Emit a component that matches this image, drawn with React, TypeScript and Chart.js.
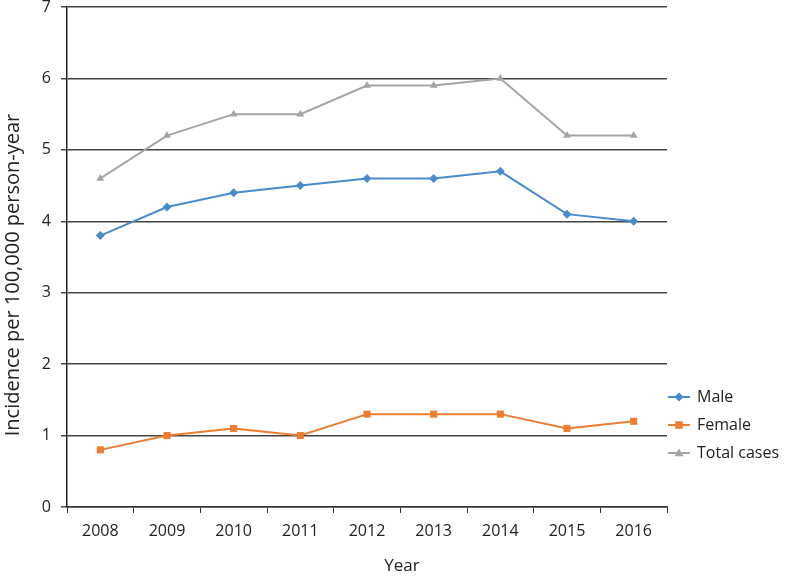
import React, { useEffect, useRef } from "react";
import { Chart, registerables } from "chart.js";

Chart.register(...registerables);

const years = ["2008", "2009", "2010", "2011", "2012", "2013", "2014", "2015", "2016"];
const male = [3.8, 4.2, 4.4, 4.5, 4.6, 4.6, 4.7, 4.1, 4.0];
const female = [0.8, 1.0, 1.1, 1.0, 1.3, 1.3, 1.3, 1.1, 1.2];
const total = [4.6, 5.2, 5.5, 5.5, 5.9, 5.9, 6.0, 5.2, 5.2];
const seriesNames = ["Male", "Female", "Total cases"];
const colors = ["#4a8bcb", "#ed7d31", "#a5a5a5"];
const markers = ["rectRot", "rect", "triangle"];
const yTitle = "Incidence per 100,000 person-year";
const xTitle = "Year";
const FONT = "'Open Sans', 'DejaVu Sans', sans-serif";

const legendPlugin = {
  id: "sideLegend",
  afterDraw(chart: any) {
    const { ctx, chartArea } = chart;
    const x0 = chartArea.right + 1;
    const yStart = chartArea.bottom - 110;
    ctx.save();
    chart.data.datasets.forEach((ds: any, i: number) => {
      const y = yStart + i * 28;
      ctx.strokeStyle = ds.borderColor;
      ctx.lineWidth = 2;
      ctx.beginPath();
      ctx.moveTo(x0, y);
      ctx.lineTo(x0 + 22, y);
      ctx.stroke();
      ctx.fillStyle = ds.backgroundColor;
      const r = ds.pointRadius;
      const s = ds.pointStyle;
      const cx = x0 + 11;
      ctx.beginPath();
      if (s === "rectRot") {
        ctx.moveTo(cx, y - r);
        ctx.lineTo(cx + r, y);
        ctx.lineTo(cx, y + r);
        ctx.lineTo(cx - r, y);
        ctx.closePath();
      } else if (s === "rect") {
        ctx.rect(cx - r * 0.75, y - r * 0.75, r * 1.5, r * 1.5);
      } else {
        ctx.moveTo(cx, y - r);
        ctx.lineTo(cx + r, y + r * 0.7);
        ctx.lineTo(cx - r, y + r * 0.7);
        ctx.closePath();
      }
      ctx.fill();
      ctx.fillStyle = "#222";
      ctx.font = `16px ${FONT}`;
      ctx.textAlign = "left";
      ctx.textBaseline = "middle";
      ctx.fillText(ds.label, x0 + 29, y);
    });
    // x-axis title
    ctx.fillStyle = "#222";
    ctx.font = `17px ${FONT}`;
    ctx.textAlign = "center";
    ctx.textBaseline = "middle";
    ctx.fillText(xTitle, (chartArea.left + chartArea.right) / 2 + 35, chartArea.bottom + 59);
    // rotated y-axis title
    ctx.translate(13, (chartArea.top + chartArea.bottom) / 2 + 18);
    ctx.rotate(-Math.PI / 2);
    ctx.font = `20px ${FONT}`;
    ctx.fillText(yTitle, 0, 0);
    ctx.restore();
  },
};

export default function App() {
  const ref = useRef<HTMLCanvasElement>(null);
  useEffect(() => {
    document.body.style.margin = "0";
    const seriesData = [male, female, total];
    const chart = new Chart(ref.current!, {
      type: "line",
      data: {
        labels: years,
        datasets: seriesData.map((d, i) => ({
          label: seriesNames[i],
          data: d,
          borderColor: colors[i],
          backgroundColor: colors[i],
          borderWidth: 2,
          pointStyle: markers[i] as any,
          pointRadius: i === 1 ? 5 : 4.5,
          pointBorderWidth: 0,
          tension: 0,
        })),
      },
      options: {
        animation: false,
        responsive: false,
        layout: { padding: { top: 7, right: 123, left: 0, bottom: 0 } },
        plugins: { legend: { display: false }, tooltip: { enabled: false } },
        scales: {
          x: {
            offset: true,
            grid: { drawOnChartArea: false, drawTicks: true, tickLength: 6, color: "#333", offset: true },
            border: { color: "#333", width: 1.5 },
            ticks: { color: "#222", font: { family: FONT, size: 16 }, padding: 9, maxRotation: 0 },
            afterFit: (s: any) => { s.height = 69; s.paddingLeft = 0; s.paddingRight = 0; },
          },
          y: {
            min: 0,
            max: 7,
            ticks: { stepSize: 1, color: "#222", font: { family: FONT, size: 16 }, padding: 10 },
            grid: { color: "#444", lineWidth: 1.5, tickLength: 6 },
            border: { color: "#222", width: 1.5 },
            afterFit: (s: any) => { s.width = 67; s.paddingTop = 0; s.paddingBottom = 0; },
          },
        },
      },
      plugins: [legendPlugin],
    });
    return () => chart.destroy();
  }, []);
  return <canvas ref={ref} width={790} height={576} style={{ display: "block" }} />;
}
